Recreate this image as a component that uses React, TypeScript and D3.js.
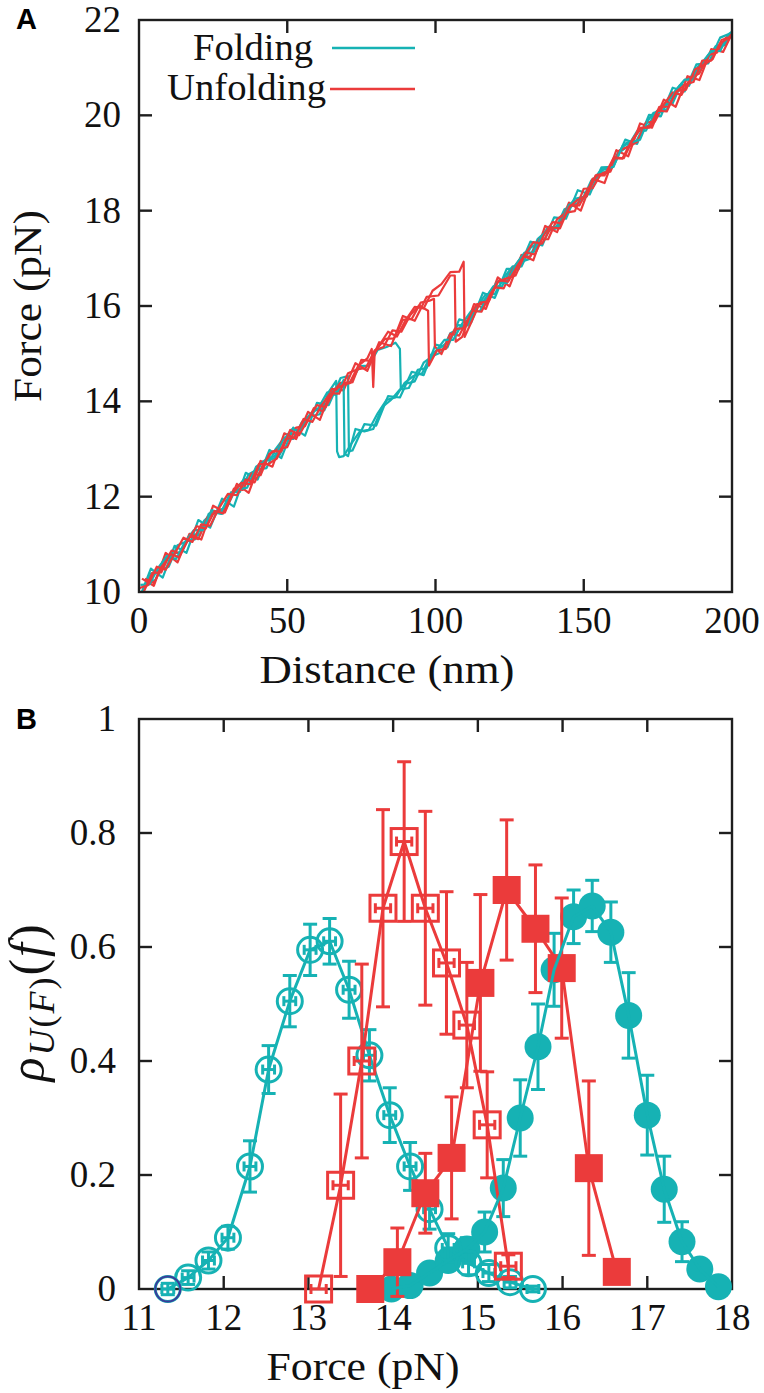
import React from "react";
import * as d3 from "d3";

const CYAN = "#16b2b4";
const RED = "#eb3b3b";
const BLUE = "#3b3b9b";
const INK = "#1e1e1e";
const SERIF = "Liberation Serif";
const SANS = "Liberation Sans";

type Pt = [number, number];

// ---------------- Panel A data: force-distance traces ----------------
const distanceTicks = [0, 50, 100, 150, 200];
const forceTicksA = [10, 12, 14, 16, 18, 20, 22];

const unfoldTrace1: Pt[] = [[0,10.08],[3,10.14],[6,10.53],[9,10.47],[12,10.8],[15,11.14],[18,11.05],[21,11.42],[24,11.39],[27,11.76],[30,12.06],[33,12.03],[36,12.36],[39,12.3],[42,12.69],[45,12.95],[48,12.95],[51,13.4],[54,13.29],[57,13.62],[60,13.92],[63,13.88],[66,14.24],[69,14.35],[72,14.4],[75,14.87],[78,14.85],[81,15.17],[84,15.46],[87,15.36],[90,15.71],[93,15.98],[96,15.95],[99,16.32],[102,16.46],[105,16.71],[108,16.72],[109.5,16.93],[109.8,15.35],[112,15.65],[115,16.07],[118,16.1],[121,16.51],[124,16.58],[127,16.64],[130,17.06],[133,17.34],[136,17.31],[139,17.65],[142,17.63],[145,18.07],[148,18.23],[151,18.3],[154,18.74],[157,18.74],[160,19.1],[163,19.09],[166,19.45],[169,19.74],[172,19.74],[175,20.1],[178,20.08],[181,20.48],[184,20.64],[187,20.7],[190,21.15],[193,21.15],[196,21.51],[199,21.63],[201,21.78]];

const unfoldTrace2: Pt[] = [[1.5,9.99],[4.5,10.4],[7.5,10.41],[10.5,10.8],[13.5,10.73],[16.5,11.09],[19.5,11.38],[22.5,11.33],[25.5,11.7],[28.5,11.65],[31.5,12.06],[34.5,12.29],[37.5,12.26],[40.5,12.69],[43.5,12.68],[46.5,12.8],[49.5,13.21],[52.5,13.24],[55.5,13.63],[58.5,13.57],[61.5,13.91],[64.5,14.17],[67.5,14.16],[70.5,14.59],[73.5,14.67],[76.5,14.7],[79.5,15.07],[82.5,15.14],[85.5,15.49],[88.5,15.46],[91.5,15.81],[94.5,16.01],[97.5,15.9],[97.8,14.75],[100.5,15.07],[103.5,15.1],[106.5,15.52],[109.5,15.53],[112.5,15.9],[115.5,15.88],[118.5,16.25],[121.5,16.54],[124.5,16.51],[127.5,16.83],[130.5,17.12],[133.5,17.08],[136.5,17.48],[139.5,17.76],[142.5,17.74],[145.5,18.11],[148.5,18.11],[151.5,18.46],[154.5,18.75],[157.5,18.78],[160.5,19.12],[163.5,19.1],[166.5,19.48],[169.5,19.74],[172.5,19.75],[175.5,20.18],[178.5,20.18],[181.5,20.51],[184.5,20.54],[187.5,20.96],[190.5,21.06],[193.5,21.18],[196.5,21.58],[199.5,21.65]];

const unfoldTrace3: Pt[] = [[2,10.28],[5,10.19],[8,10.55],[11,10.87],[14,10.8],[17,11.17],[20,11.11],[23,11.56],[26,11.67],[29,11.72],[32,12.17],[35,12.14],[38,12.49],[41,12.45],[44,12.9],[47,13.0],[50,13.04],[53,13.45],[56,13.48],[59,13.86],[62,13.79],[65,14.16],[68,14.39],[71,14.38],[74,14.75],[77,14.9],[78.5,15.1],[79,14.3],[79.5,15.05],[83,15.31],[86,15.32],[89,15.71],[92,15.73],[95,16.07],[98,16.11],[99.5,16.15],[99.8,15.15],[102,14.99],[105,15.42],[108,15.38],[111,15.74],[114,16.04],[117,16.04],[120,16.39],[123,16.37],[126,16.77],[129,17.03],[132,17.04],[135,17.4],[138,17.4],[141,17.82],[144,17.96],[147,17.99],[150,18.46],[153,18.47],[156,18.79],[159,18.82],[162,19.26],[165,19.34],[168,19.44],[171,19.85],[174,19.87],[177,20.23],[180,20.48],[183,20.43],[186,20.79],[189,20.88],[192,21.26],[195,21.32],[198,21.63],[201,21.75]];

const unfoldTrace4: Pt[] = [[1,10.28],[5,10.13],[9,10.82],[13,10.62],[17,11.22],[21,11.1],[25,11.81],[29,11.67],[33,12.27],[37,12.08],[41,12.75],[45,12.63],[49,13.33],[53,13.21],[57,13.78],[61,13.61],[65,14.26],[69,14.23],[73,14.8],[77,14.64],[81,15.24],[85,15.16],[89,15.79],[93,15.69],[97,16.19],[101,16.22],[105,16.64],[106.5,16.64],[106.8,15.25],[109,15.35],[113,16.04],[117,15.94],[121,16.6],[125,16.41],[129,17.07],[133,16.96],[137,17.68],[141,17.55],[145,18.17],[149,18.0],[153,18.67],[157,18.58],[161,19.27],[165,19.14],[169,19.83],[173,19.74],[177,20.33],[181,20.18],[185,20.82],[189,20.74],[193,21.39],[197,21.33],[201,21.85]];

const foldTrace1: Pt[] = [[0.5,10.15],[3.5,10.16],[6.5,10.51],[9.5,10.76],[12.5,10.69],[15.5,11.05],[18.5,11.3],[21.5,11.3],[24.5,11.72],[27.5,11.65],[30.5,12.04],[33.5,12.15],[36.5,12.19],[39.5,12.63],[42.5,12.75],[45.5,12.8],[48.5,13.17],[51.5,13.41],[54.5,13.38],[57.5,13.71],[60.5,13.86],[63.5,14.19],[66.5,14.13],[69,14.45],[69.3,12.9],[70.5,12.85],[73,13.42],[76,13.37],[79,13.42],[82,13.88],[85,14.03],[88,14.25],[91,14.28],[94,14.66],[97,14.7],[100,15.04],[103,15.29],[106,15.29],[109,15.63],[112,15.89],[115,15.89],[118,16.27],[121,16.51],[124,16.48],[127,16.86],[130,17.12],[133,17.12],[136,17.49],[139,17.65],[142,17.67],[145,18.12],[148,18.23],[151,18.3],[154,18.72],[157,18.88],[160,18.92],[163,19.35],[166,19.43],[169,19.49],[172,19.94],[175,20.06],[178,20.12],[181,20.52],[184,20.75],[187,20.75],[190,21.11],[193,21.35],[196,21.35],[199,21.71],[201,21.8]];

const foldTrace2: Pt[] = [[1,9.98],[4,10.39],[7,10.46],[10,10.53],[13,10.98],[16,11.06],[19,11.11],[22,11.5],[25,11.67],[28,11.64],[31,12.09],[34,12.1],[37,12.47],[40,12.57],[43,12.6],[46,12.99],[49,13.24],[52,13.21],[55,13.57],[58,13.69],[61,13.73],[64,14.2],[66.5,14.43],[66.8,12.95],[67.5,12.83],[69,12.85],[71.5,13.1],[74.5,13.37],[77.5,13.4],[80.5,13.75],[83.5,14.03],[86.5,14.08],[89.5,14.38],[92.5,14.53],[95.5,14.59],[98.5,14.98],[101.5,15.12],[104.5,15.26],[107.5,15.6],[110.5,15.59],[113.5,15.97],[116.5,16.13],[119.5,16.41],[122.5,16.42],[125.5,16.78],[128.5,16.92],[131.5,16.98],[134.5,17.41],[137.5,17.57],[140.5,17.62],[143.5,18.03],[146.5,18.11],[149.5,18.22],[152.5,18.63],[155.5,18.78],[158.5,18.84],[161.5,19.21],[164.5,19.43],[167.5,19.43],[170.5,19.79],[173.5,20.05],[176.5,20.08],[179.5,20.4],[182.5,20.64],[185.5,20.62],[188.5,21.02],[191.5,21.16],[194.5,21.45],[197.5,21.47],[200.5,21.79]];

const foldTrace3: Pt[] = [[2.5,10.21],[5.5,10.25],[8.5,10.67],[11.5,10.8],[14.5,10.85],[17.5,11.22],[20.5,11.19],[23.5,11.64],[26.5,11.71],[29.5,11.77],[32.5,12.14],[35.5,12.37],[38.5,12.36],[41.5,12.73],[44.5,12.83],[47.5,12.88],[50.5,13.32],[53.5,13.31],[56.5,13.65],[59.5,13.82],[62.5,13.81],[65.5,14.25],[68.5,14.35],[71.5,14.41],[74.5,14.74],[77.5,14.75],[80.5,15.08],[83.5,15.14],[86.5,15.23],[88,15.1],[88.3,14.28],[90,14.37],[93,14.42],[96,14.81],[99,14.95],[102,15.03],[105,15.43],[108,15.53],[111,15.6],[114,16.0],[117,16.25],[120,16.25],[123,16.59],[126,16.83],[129,16.83],[132,17.22],[135,17.35],[138,17.66],[141,17.64],[144,18.01],[147,18.25],[150,18.29],[153,18.63],[156,18.87],[159,18.86],[162,19.22],[165,19.36],[168,19.67],[171,19.68],[174,20.05],[177,20.21],[180,20.25],[183,20.67],[186,20.8],[189,20.9],[192,21.26],[195,21.44],[198,21.49],[201,21.85]];

const foldTrace4: Pt[] = [[0,9.85],[4,10.49],[8,10.3],[12,10.97],[16,10.82],[20,11.51],[24,11.35],[28,11.96],[32,11.79],[36,12.5],[40,12.36],[44,12.98],[48,12.81],[52,13.45],[56,13.28],[60,13.97],[64,13.92],[68,14.49],[70.5,14.53],[70.8,12.95],[72,12.97],[76,13.52],[80,13.49],[84,14.11],[88,14.08],[92,14.62],[96,14.55],[100,15.19],[104,15.13],[108,15.72],[112,15.65],[116,16.28],[120,16.17],[124,16.78],[128,16.77],[132,17.35],[136,17.27],[140,17.86],[144,17.83],[148,18.43],[152,18.34],[156,18.91],[160,18.92],[164,19.49],[168,19.4],[172,20.01],[176,19.98],[180,20.58],[184,20.5],[188,21.07],[192,21.09],[196,21.63],[200,21.73]];

// ---------------- Panel B data: rupture-force distributions ----------------
const forceTicksB = [11, 12, 13, 14, 15, 16, 17, 18];
const rhoTicks = [0, 0.2, 0.4, 0.6, 0.8, 1];
const rhoTickLabels = ["0", "0.2", "0.4", "0.6", "0.8", "1"];

const openCircleForce = [11.34, 11.58, 11.82, 12.05, 12.31, 12.53, 12.78, 13.02, 13.25, 13.48, 13.72, 13.96, 14.2, 14.43, 14.65, 14.89, 15.13, 15.38, 15.65];
const openCircleRho = [0, 0.02, 0.05, 0.09, 0.215, 0.385, 0.505, 0.595, 0.61, 0.525, 0.41, 0.305, 0.215, 0.14, 0.072, 0.045, 0.028, 0.012, 0];
const openCircleErr = [0.01, 0.012, 0.015, 0.02, 0.045, 0.042, 0.045, 0.045, 0.04, 0.05, 0.045, 0.048, 0.042, 0.035, 0.025, 0.02, 0.015, 0.01, 0.005];

const openSquareForce = [13.12, 13.38, 13.63, 13.88, 14.13, 14.38, 14.63, 14.87, 15.11, 15.36];
const openSquareRho = [0, 0.182, 0.4, 0.668, 0.785, 0.668, 0.572, 0.463, 0.288, 0.04];
const openSquareErr = [0, 0.16, 0.17, 0.173, 0.14, 0.17, 0.125, 0.11, 0.093, 0.02];

const filledSquareForce = [13.73, 14.05, 14.38, 14.69, 15.03, 15.34, 15.68, 15.99, 16.31, 16.64];
const filledSquareRho = [0, 0.047, 0.168, 0.23, 0.537, 0.7, 0.632, 0.563, 0.212, 0.03];
const filledSquareErr = [0, 0.06, 0.07, 0.107, 0.155, 0.123, 0.112, 0.123, 0.153, 0];

const filledCircleForce = [13.98, 14.2, 14.43, 14.65, 14.87, 15.08, 15.3, 15.5, 15.71, 15.9, 16.13, 16.35, 16.57, 16.78, 17.0, 17.2, 17.41, 17.62, 17.84];
const filledCircleRho = [0, 0.006, 0.028, 0.05, 0.07, 0.1, 0.177, 0.3, 0.425, 0.56, 0.653, 0.672, 0.626, 0.48, 0.305, 0.175, 0.083, 0.035, 0.004];
const filledCircleErr = [0.003, 0.005, 0.01, 0.015, 0.02, 0.035, 0.05, 0.067, 0.075, 0.064, 0.047, 0.045, 0.053, 0.075, 0.07, 0.058, 0.035, 0.015, 0.005];

const blueMarker: Pt[] = [[11.34, 0]];

// ---------------- scales ----------------
const xA = d3.scaleLinear().domain([0, 200]).range([139, 732]);
const yA = d3.scaleLinear().domain([10, 22]).range([592, 20]);
const xB = d3.scaleLinear().domain([11, 18]).range([139, 732]);
const yB = d3.scaleLinear().domain([0, 1]).range([1289, 719]);

const TICK = 13;

function T(props: any) {
  const { children, size = 37, ...rest } = props;
  return (
    <text fontFamily={SERIF} fontSize={size} fill="#111" {...rest}>
      {children}
    </text>
  );
}

function Frame({ x, y, xTicks, yTicks }: any) {
  const [x0, x1] = x.range();
  const [y0, y1] = y.range();
  return (
    <g stroke={INK} strokeWidth={2.4} fill="none">
      {xTicks.map((t: number) => (
        <g key={"x" + t}>
          <line x1={x(t)} x2={x(t)} y1={y0} y2={y0 - TICK} />
          <line x1={x(t)} x2={x(t)} y1={y1} y2={y1 + TICK} />
        </g>
      ))}
      {yTicks.map((t: number) => (
        <g key={"y" + t}>
          <line x1={x0} x2={x0 + TICK} y1={y(t)} y2={y(t)} />
          <line x1={x1} x2={x1 - TICK} y1={y(t)} y2={y(t)} />
        </g>
      ))}
      <rect x={x0} y={y1} width={x1 - x0} height={y0 - y1} />
    </g>
  );
}

function Trace({ data, color }: { data: Pt[]; color: string }) {
  const line = d3.line<Pt>().x((d) => xA(d[0])).y((d) => yA(d[1]));
  return <path d={line(data) || ""} fill="none" stroke={color} strokeWidth={2.2} strokeLinejoin="round" />;
}

function Series({ f, rho, err, xerr, color, shape, filled, parts }: any) {
  const pts: Pt[] = f.map((v: number, i: number) => [v, rho[i]]);
  const line = d3.line<Pt>().x((d) => xB(d[0])).y((d) => yB(d[1]));
  const cap = 7;
  const sw = 3;
  const showLine = parts.includes("line");
  const showBars = parts.includes("bars");
  const showMarks = parts.includes("marks");
  return (
    <g>
      {showLine && <path d={line(pts) || ""} fill="none" stroke={color} strokeWidth={sw} strokeLinejoin="round" />}
      {showBars &&
        pts.map((p, i) => {
          const cx = xB(p[0]);
          const e = err[i];
          const yt = yB(p[1] + e);
          const yb = yB(p[1] - e);
          return (
            <g key={"b" + i} stroke={color} strokeWidth={sw}>
              {e > 0 && (
                <>
                  <line x1={cx} x2={cx} y1={yt} y2={yb} />
                  <line x1={cx - cap} x2={cx + cap} y1={yt} y2={yt} />
                  <line x1={cx - cap} x2={cx + cap} y1={yb} y2={yb} />
                </>
              )}
              {xerr > 0 && (
                <>
                  <line x1={xB(p[0] - xerr)} x2={xB(p[0] + xerr)} y1={yB(p[1])} y2={yB(p[1])} />
                  <line x1={xB(p[0] - xerr)} x2={xB(p[0] - xerr)} y1={yB(p[1]) - 5} y2={yB(p[1]) + 5} />
                  <line x1={xB(p[0] + xerr)} x2={xB(p[0] + xerr)} y1={yB(p[1]) - 5} y2={yB(p[1]) + 5} />
                </>
              )}
            </g>
          );
        })}
      {showMarks &&
        pts.map((p, i) => {
          const cx = xB(p[0]);
          const cy = yB(p[1]);
          if (shape === "circle") {
            return filled ? (
              <circle key={"m" + i} cx={cx} cy={cy} r={13.5} fill={color} />
            ) : (
              <circle key={"m" + i} cx={cx} cy={cy} r={12.5} fill="none" stroke={color} strokeWidth={sw} />
            );
          }
          return filled ? (
            <rect key={"m" + i} x={cx - 14} y={cy - 14} width={28} height={28} fill={color} />
          ) : (
            <rect key={"m" + i} x={cx - 13} y={cy - 13} width={26} height={26} fill="none" stroke={color} strokeWidth={sw} />
          );
        })}
    </g>
  );
}

export default function App() {
  const all = ["line", "bars", "marks"];
  return (
    <svg width={764} height={1393} style={{ position: "absolute", left: 0, top: 0, background: "#fff" }}>
      <rect x={0} y={0} width={764} height={1393} fill="#fff" />
      <defs>
        <clipPath id="clipA">
          <rect x={139} y={20} width={593} height={572} />
        </clipPath>
      </defs>

      {/* ---------- Panel A ---------- */}
      <text x={16} y={29} fontFamily={SANS} fontWeight="bold" fontSize={29} fill="#000">A</text>
      <g clipPath="url(#clipA)">
        <Trace data={foldTrace4} color={CYAN} />
        <Trace data={foldTrace3} color={CYAN} />
        <Trace data={foldTrace2} color={CYAN} />
        <Trace data={unfoldTrace4} color={RED} />
        <Trace data={unfoldTrace3} color={RED} />
        <Trace data={foldTrace1} color={CYAN} />
        <Trace data={unfoldTrace2} color={RED} />
        <Trace data={unfoldTrace1} color={RED} />
      </g>
      <Frame x={xA} y={yA} xTicks={distanceTicks.slice(1, -1)} yTicks={forceTicksA.slice(1, -1)} />
      {forceTicksA.map((t) => (
        <T key={"ya" + t} x={121} y={yA(t) + 12} textAnchor="end">{t}</T>
      ))}
      {distanceTicks.map((t) => (
        <T key={"xa" + t} x={xA(t)} y={633} textAnchor="middle">{t}</T>
      ))}
      <T x={387} y={683} textAnchor="middle" size={40} textLength={255} lengthAdjust="spacingAndGlyphs">Distance (nm)</T>
      <T transform={`translate(41,306) rotate(-90)`} textAnchor="middle" size={40} textLength={192} lengthAdjust="spacingAndGlyphs">Force (pN)</T>
      <T x={193} y={60} textLength={120} lengthAdjust="spacingAndGlyphs">Folding</T>
      <T x={167} y={100} textLength={159} lengthAdjust="spacingAndGlyphs">Unfolding</T>
      <line x1={332} x2={415} y1={48} y2={48} stroke={CYAN} strokeWidth={2.5} />
      <line x1={330} x2={415} y1={89} y2={89} stroke={RED} strokeWidth={2.5} />

      {/* ---------- Panel B ---------- */}
      <text x={16} y={729} fontFamily={SANS} fontWeight="bold" fontSize={29} fill="#000">B</text>
      <Frame x={xB} y={yB} xTicks={forceTicksB.slice(1, -1)} yTicks={rhoTicks.slice(1, -1)} />
      {rhoTicks.map((t, i) => (
        <T key={"yb" + t} x={116} y={yB(t) + 12} textAnchor="end">{rhoTickLabels[i]}</T>
      ))}
      {forceTicksB.map((t) => (
        <T key={"xb" + t} x={xB(t)} y={1330} textAnchor="middle">{t}</T>
      ))}
      <T x={363} y={1380} textAnchor="middle" size={40} textLength={193} lengthAdjust="spacingAndGlyphs">Force (pN)</T>
      <T transform={`translate(44,1002) rotate(-90)`} textAnchor="middle" size={50} letterSpacing={2}>
        <tspan fontStyle="italic">ρ</tspan>
        <tspan fontSize={36} fontStyle="italic" dy={10}>U</tspan>
        <tspan fontSize={36}>(</tspan>
        <tspan fontSize={36} fontStyle="italic">F</tspan>
        <tspan fontSize={36}>)</tspan>
        <tspan dy={-10}>(</tspan>
        <tspan fontStyle="italic">f</tspan>
        <tspan>)</tspan>
      </T>

      <Series f={filledCircleForce} rho={filledCircleRho} err={filledCircleErr} xerr={0} color={CYAN} shape="circle" filled parts={["bars", "marks"]} />
      <Series f={openCircleForce} rho={openCircleRho} err={openCircleErr} xerr={0.07} color={CYAN} shape="circle" filled={false} parts={all} />
      <Series f={openSquareForce} rho={openSquareRho} err={openSquareErr} xerr={0.09} color={RED} shape="square" filled={false} parts={all} />
      <Series f={filledSquareForce} rho={filledSquareRho} err={filledSquareErr} xerr={0} color={RED} shape="square" filled parts={all} />
      <Series f={filledCircleForce} rho={filledCircleRho} err={filledCircleErr} xerr={0} color={CYAN} shape="circle" filled parts={["line"]} />
      {blueMarker.map((p, i) => (
        <circle key={i} cx={xB(p[0])} cy={yB(p[1])} r={12.5} fill="none" stroke={BLUE} strokeWidth={2} />
      ))}
    </svg>
  );
}
